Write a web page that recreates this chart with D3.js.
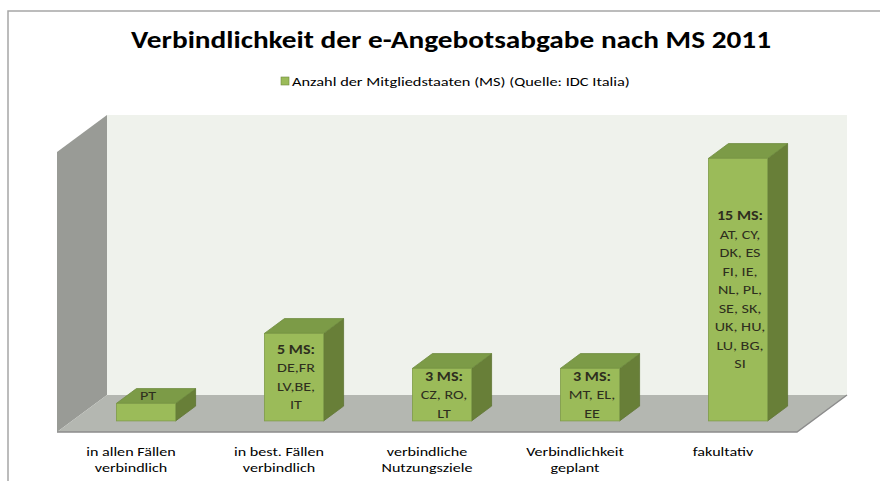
<!DOCTYPE html>
<html>
<head>
<meta charset="utf-8">
<script src="https://cdn.jsdelivr.net/npm/d3@7"></script>
<style>
  body { margin: 0; background: #fff; }
  svg { display: block; }
</style>
</head>
<body>
<div id="chart"></div>
<script>
// chart data
var categories = ["in allen Fällen|verbindlich", "in best. Fällen|verbindlich", "verbindliche|Nutzungsziele", "Verbindlichkeit|geplant", "fakultativ"];
var values = [1, 5, 3, 3, 15];
var barLabels = [
    ["PT"],
    ["5 MS:", "DE,FR", "LV,BE,", "IT"],
    ["3 MS:", "CZ, RO,", "LT"],
    ["3 MS:", "MT, EL,", "EE"],
    ["15 MS:", "AT, CY,", "DK, ES", "FI, IE,", "NL, PL,", "SE, SK,", "UK, HU,", "LU, BG,", "SI"]
];
var seriesName = "Anzahl der Mitgliedstaaten (MS) (Quelle: IDC Italia)";
var chartTitle = "Verbindlichkeit der e-Angebotsabgabe nach MS 2011";
var yDomain = [0, 16];

const total_width = 880;
const total_height = 481;
const font = "Carlito, Calibri, 'Liberation Sans Narrow', 'DejaVu Sans Condensed', sans-serif";
// the original picture is stretched horizontally, so text is too
const SX = 1.24;

// depth of the 3d box (front plane -> back wall)
const DX = 50, DY = -37;
const zFront = 0.3, zBack = 0.7;

var svg = d3.select("#chart").append("svg").attr("width", total_width).attr("height", total_height);

// chart frame
svg.append("rect").attr("x", 8).attr("y", 11).attr("width", 900).attr("height", 500)
    .style("fill", "#fff").style("stroke", "#a6a6a6").style("stroke-width", 1.5);

svg.append("text").attr("transform", "translate(451,48) scale(" + (SX - 0.02) + ",1)").attr("text-anchor", "middle")
    .style("font-family", font).style("font-weight", "bold").style("font-size", "24px").style("fill", "#000")
    .text(chartTitle);

// legend
var legend = svg.append("g");
legend.append("rect").attr("x", 281).attr("y", 77).attr("width", 8).attr("height", 8)
    .style("fill", "#9bbb59").style("stroke", "#71893f").style("stroke-width", 0.6);
legend.append("text").attr("transform", "translate(292,85.5) scale(" + (SX + 0.02) + ",1)")
    .style("font-family", font).style("font-size", "13px").style("fill", "#000")
    .text(seriesName);

var x = d3.scaleBand().domain(categories).range([57, 797]).paddingInner(0.6).paddingOuter(0.3);
var y = d3.scaleLinear().domain(yDomain).range([432, 152]);

function pt(px, py, z) { return [px + DX * z, py + DY * z]; }
function poly(points) { return "M" + points.map(function(p) { return p[0] + "," + p[1]; }).join("L") + "Z"; }

var x0 = x.range()[0], x1 = x.range()[1];
var yb = y(yDomain[0]), yt = y(yDomain[1]);

// back wall, side wall, floor
svg.append("path").attr("d", poly([pt(x0, yt, 1), pt(x1, yt, 1), pt(x1, yb, 1), pt(x0, yb, 1)]))
    .style("fill", "#eff2ec");
svg.append("path").attr("d", poly([pt(x0, yt, 0), pt(x0, yt, 1), pt(x0, yb, 1), pt(x0, yb, 0)]))
    .style("fill", "#999b96");
svg.append("path").attr("d", poly([pt(x0, yb, 0), pt(x0, yb, 1), pt(x1, yb, 1), pt(x1, yb, 0)]))
    .style("fill", "#b4b7b1");
svg.append("path").attr("d", "M" + pt(x0, yb, 0) + "L" + pt(x1, yb, 0) + "L" + pt(x1, yb, 1))
    .style("fill", "none").style("stroke", "#8c8c8c").style("stroke-width", 1.5);

// bars
var bars = svg.selectAll(".bar").data(values).enter().append("g").attr("class", "bar");

bars.each(function(v, i) {
    var g = d3.select(this);
    var bx0 = x(categories[i]), bx1 = bx0 + x.bandwidth();
    var top = y(v), bot = y(0);
    // side face
    g.append("path").attr("d", poly([pt(bx1, top, zFront), pt(bx1, top, zBack), pt(bx1, bot, zBack), pt(bx1, bot, zFront)]))
        .style("fill", "#687f38").style("stroke", "#5f7533").style("stroke-width", 0.8);
    // top face
    g.append("path").attr("d", poly([pt(bx0, top, zFront), pt(bx1, top, zFront), pt(bx1, top, zBack), pt(bx0, top, zBack)]))
        .style("fill", "#7c9b47").style("stroke", "#6d8a3d").style("stroke-width", 0.8);
    // front face
    var f0 = pt(bx0, top, zFront), f1 = pt(bx1, bot, zFront);
    g.append("rect").attr("x", f0[0]).attr("y", f0[1]).attr("width", f1[0] - f0[0]).attr("height", f1[1] - f0[1])
        .style("fill", "#9bbb59").style("stroke", "#7f9c49").style("stroke-width", 0.8);

    // data label
    var lines = barLabels[i];
    var lh = 18.5;
    var cx = (f0[0] + f1[0]) / 2 + 2;
    var cy;
    if (f1[1] - f0[1] < 25) {
        cy = f0[1] + DY * (zBack - zFront) / 2;
    } else {
        cy = (f0[1] + f1[1]) / 2;
    }
    var startY = cy - (lines.length - 1) * lh / 2 + 4.5;
    var t = g.append("text").attr("text-anchor", "middle").attr("transform", "translate(" + cx + ",0) scale(" + SX + ",1)")
        .style("font-family", font).style("font-size", "13px").style("fill", "#2e2e1e");
    lines.forEach(function(l, j) {
        t.append("tspan").attr("x", 0).attr("y", startY + j * lh)
            .style("font-weight", (j === 0 && lines.length > 1) ? "bold" : "normal")
            .text(l);
    });
});

// category axis
var xAxis = d3.axisBottom(x).tickSize(0).tickFormat("");
var axisG = svg.append("g").attr("transform", "translate(0," + 447 + ")").call(xAxis);
axisG.select(".domain").remove();
axisG.selectAll(".tick").each(function(d) {
    var parts = d.split("|");
    var tx = d3.select(this).append("text").attr("text-anchor", "middle").attr("transform", "scale(" + SX + ",1)")
        .style("font-family", font).style("font-size", "13px").style("fill", "#000");
    parts.forEach(function(p, j) {
        tx.append("tspan").attr("x", 0).attr("y", 8.5 + j * 17).text(p);
    });
});
</script>
</body>
</html>
